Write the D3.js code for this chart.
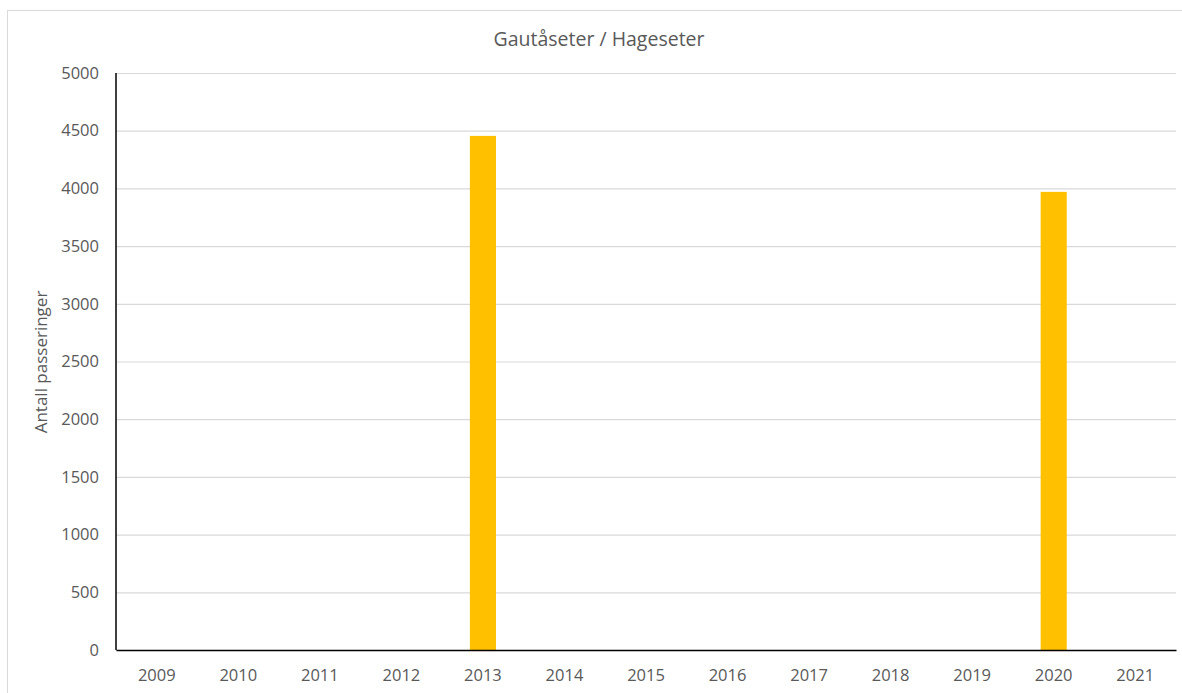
<!DOCTYPE html>
<html>
<head>
<meta charset="utf-8">
<script src="https://d3js.org/d3.v7.min.js"></script>
<style>
  body { margin: 0; background: #fff; }
  svg text { font-family: "Open Sans", "Noto Sans", sans-serif; fill: #595959; }
</style>
</head>
<body>
<svg id="chart" width="1182" height="693"></svg>
<script>
const years = ['2009','2010','2011','2012','2013','2014','2015','2016','2017','2018','2019','2020','2021'];
const passes = [0, 0, 0, 0, 4455, 0, 0, 0, 0, 0, 0, 3970, 0];
const yTicks = [0, 500, 1000, 1500, 2000, 2500, 3000, 3500, 4000, 4500, 5000];
const title = 'Gautåseter / Hageseter';
const yLabel = 'Antall passeringer';

const svg = d3.select('#chart');
const m = {left: 116, right: 1176, top: 73, bottom: 650};

// chart frame
svg.append('rect')
  .attr('x', 7.5).attr('y', 10.5)
  .attr('width', 1200).attr('height', 700)
  .attr('fill', 'none').attr('stroke', '#d9d9d9');

const x = d3.scaleBand().domain(years).range([m.left, m.right]).paddingInner(0.68).paddingOuter(0.34);
const xc = d3.scaleBand().domain(years).range([m.left, m.right]);
const y = d3.scaleLinear().domain([0, 5000]).range([m.bottom, m.top]);

// gridlines
svg.append('g')
  .attr('transform', `translate(${m.left},0)`)
  .call(d3.axisLeft(y).tickValues(yTicks).tickSize(-(m.right - m.left)).tickFormat(''))
  .call(g => g.select('.domain').remove())
  .call(g => g.selectAll('line').attr('stroke', '#d9d9d9').attr('stroke-width', 1.2));

// y labels
svg.append('g')
  .attr('transform', `translate(${m.left},0)`)
  .call(d3.axisLeft(y).tickValues(yTicks).tickSize(0).tickPadding(17).tickFormat(d3.format('d')))
  .call(g => g.select('.domain').remove())
  .call(g => g.selectAll('text').attr('font-size', 16.5).attr('fill', '#595959'));

// bars
svg.append('g').selectAll('rect')
  .data(years.map((d, i) => ({year: d, v: passes[i]})).filter(d => d.v > 0))
  .join('rect')
  .attr('x', d => x(d.year))
  .attr('width', x.bandwidth())
  .attr('y', d => y(d.v))
  .attr('height', d => y(0) - y(d.v))
  .attr('fill', '#ffc000');

// x axis
svg.append('g')
  .attr('transform', `translate(0,${m.bottom})`)
  .call(d3.axisBottom(xc).tickSize(0).tickPadding(19))
  .call(g => g.select('.domain').attr('stroke', '#000').attr('stroke-width', 1.5))
  .call(g => g.selectAll('text').attr('font-size', 16.5).attr('fill', '#595959'));

// y axis line
svg.append('line')
  .attr('x1', m.left).attr('x2', m.left)
  .attr('y1', y(5000)).attr('y2', y(0))
  .attr('stroke', '#000').attr('stroke-width', 1.5);

svg.append('text')
  .attr('x', 599).attr('y', 46)
  .attr('text-anchor', 'middle')
  .attr('font-size', 19.5)
  .text(title);

svg.append('text')
  .attr('transform', 'translate(47,362) rotate(-90)')
  .attr('text-anchor', 'middle')
  .attr('font-size', 17)
  .text(yLabel);
</script>
</body>
</html>
